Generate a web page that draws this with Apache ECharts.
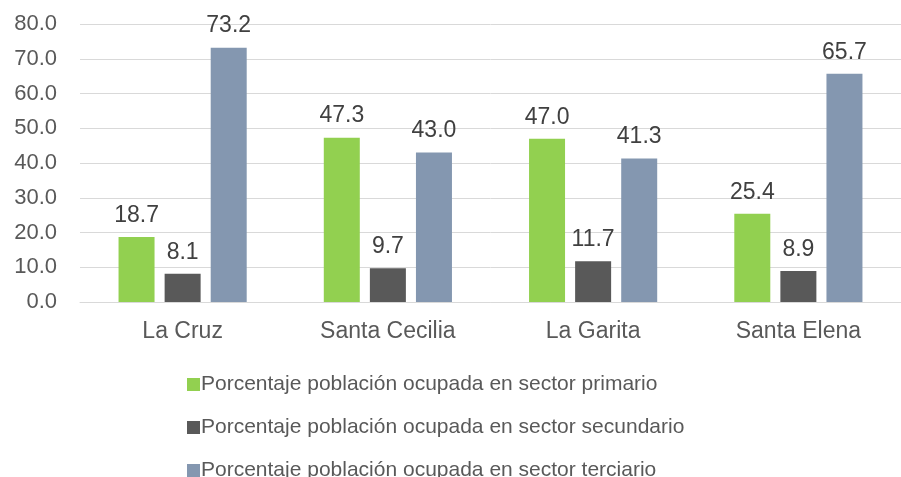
<!DOCTYPE html>
<html>
<head>
<meta charset="utf-8">
<script src="https://cdn.jsdelivr.net/npm/echarts@6/dist/echarts.min.js"></script>
<style>
  html, body { margin: 0; padding: 0; background: #fff; }
  #chart { width: 901px; height: 477px; }
</style>
</head>
<body>
<div id="chart"></div>
<script>
const categories = ["La Cruz", "Santa Cecilia", "La Garita", "Santa Elena"];
const primario = [18.7, 47.3, 47.0, 25.4];
const secundario = [8.1, 9.7, 11.7, 8.9];
const terciario = [73.2, 43.0, 41.3, 65.7];
const yTicks = [0, 10, 20, 30, 40, 50, 60, 70, 80];

const font = "Liberation Sans, Arial, sans-serif";

function barSeries(name, data, color) {
  return {
    name: name,
    type: "bar",
    data: data,
    barWidth: 36,
    barGap: "28%",
    itemStyle: { color: color },
    label: {
      show: true,
      position: "top",
      distance: 10,
      fontFamily: font,
      fontSize: 23,
      color: "#404040",
      formatter: (p) => p.value.toFixed(1),
    },
  };
}

const chart = echarts.init(document.getElementById("chart"));
chart.setOption({
  animation: false,
  textStyle: { fontFamily: font },
  grid: { left: 80, right: 0, top: 24, bottom: 175 },
  xAxis: {
    type: "category",
    data: categories,
    axisLine: { lineStyle: { color: "#d9d9d9", width: 1 } },
    axisTick: { show: false },
    axisLabel: { fontSize: 23, color: "#595959", margin: 18, fontFamily: font },
  },
  yAxis: {
    type: "value",
    min: yTicks[0],
    max: yTicks[yTicks.length - 1],
    interval: 10,
    axisLine: { show: false },
    axisTick: { show: false },
    splitLine: { lineStyle: { color: "#d9d9d9", width: 1 } },
    axisLabel: {
      fontSize: 22,
      color: "#595959",
      margin: 23,
      fontFamily: font,
      formatter: (v) => v.toFixed(1),
    },
  },
  legend: {
    orient: "vertical",
    left: 182,
    top: 369,
    height: 140,
    itemWidth: 13,
    itemHeight: 13,
    itemGap: 22,
    icon: "rect",
    textStyle: { fontSize: 21, color: "#595959", fontFamily: font, padding: [0, 0, 0, -4] },
  },
  series: [
    barSeries("Porcentaje población ocupada en sector primario", primario, "#92d050"),
    barSeries("Porcentaje población ocupada en sector secundario", secundario, "#595959"),
    barSeries("Porcentaje población ocupada en sector terciario", terciario, "#8497b0"),
  ],
});
</script>
</body>
</html>
